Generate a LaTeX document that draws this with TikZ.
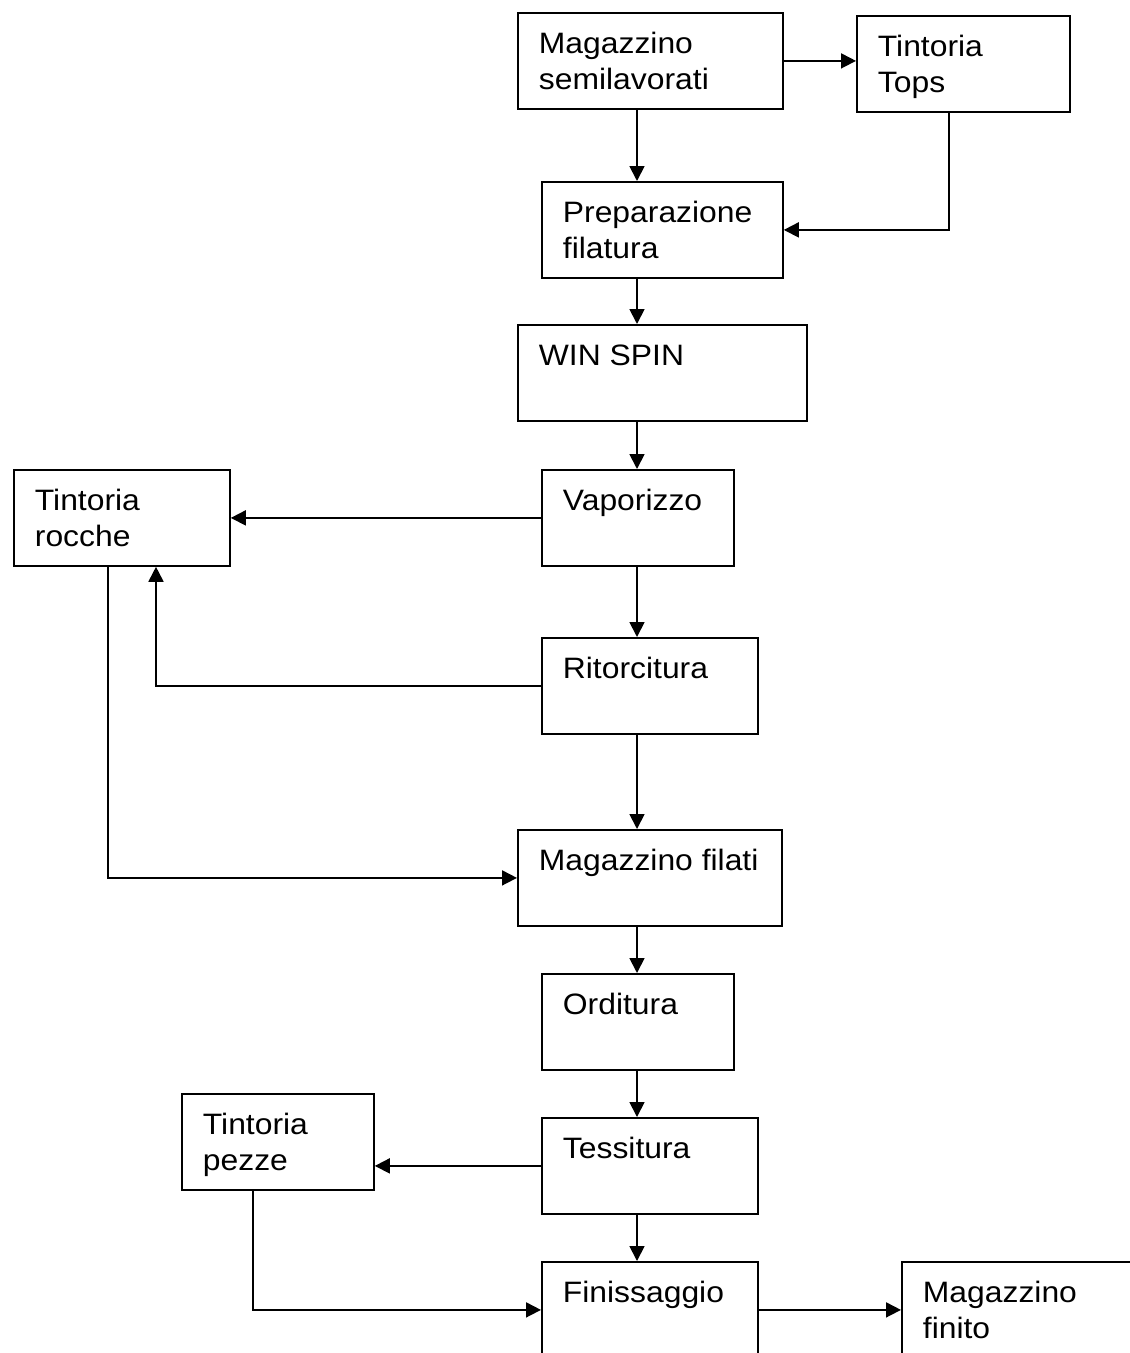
\documentclass[tikz,border=0pt]{standalone}
\usepackage{fontspec}
\setmainfont{Liberation Sans}[FakeStretch=1.08]
\usetikzlibrary{arrows.meta}
\newcommand{\stagelines}[1]{\begin{tabular}[t]{@{}l@{}}#1\end{tabular}}

\begin{document}
\begin{tikzpicture}[x=1pt, y=-1pt, line width=1.8pt,
    >={Triangle[length=15pt,width=15pt]},
    stage/.style={draw, anchor=north west, inner sep=0pt},
    stagetext/.style={anchor=base west, inner sep=0pt,
      font=\fontsize{29.5}{36}\selectfont}]
  % Page frame (bottom boxes run off the page)
  \useasboundingbox (0,0) rectangle (1130,1353);
  \clip (0,0) rectangle (1130,1353);

  % Boxes
  \node[stage, minimum width=265, minimum height=96] (msemi) at (517,12) {};
  \node[stage, minimum width=213, minimum height=96] (ttops) at (856,15) {};
  \node[stage, minimum width=241, minimum height=96] (prep) at (541,181) {};
  \node[stage, minimum width=289, minimum height=96] (winspin) at (517,324) {};
  \node[stage, minimum width=192, minimum height=96] (vapor) at (541,469) {};
  \node[stage, minimum width=216, minimum height=96] (trocche) at (13,469) {};
  \node[stage, minimum width=216, minimum height=96] (ritor) at (541,637) {};
  \node[stage, minimum width=264, minimum height=96] (mfil) at (517,829) {};
  \node[stage, minimum width=192, minimum height=96] (ordit) at (541,973) {};
  \node[stage, minimum width=216, minimum height=96] (tessit) at (541,1117) {};
  \node[stage, minimum width=192, minimum height=96] (tpezze) at (181,1093) {};
  \node[stage, minimum width=216, minimum height=96] (finiss) at (541,1261) {};
  \node[stage, minimum width=260, minimum height=96] (mfinito) at (901,1261) {};

  % Labels
  \node[stagetext] (msemi-t) at ([shift={(21,41)}]msemi.north west)
    {\stagelines{Magazzino\\semilavorati}};
  \node[stagetext] (ttops-t) at ([shift={(21,41)}]ttops.north west)
    {\stagelines{Tintoria\\Tops}};
  \node[stagetext] (prep-t) at ([shift={(21,41)}]prep.north west)
    {\stagelines{Preparazione\\filatura}};
  \node[stagetext] (winspin-t) at ([shift={(21,41)}]winspin.north west) {WIN SPIN};
  \node[stagetext] (vapor-t) at ([shift={(21,41)}]vapor.north west) {Vaporizzo};
  \node[stagetext] (trocche-t) at ([shift={(21,41)}]trocche.north west)
    {\stagelines{Tintoria\\rocche}};
  \node[stagetext] (ritor-t) at ([shift={(21,41)}]ritor.north west) {Ritorcitura};
  \node[stagetext] (mfil-t) at ([shift={(21,41)}]mfil.north west) {Magazzino filati};
  \node[stagetext] (ordit-t) at ([shift={(21,41)}]ordit.north west) {Orditura};
  \node[stagetext] (tessit-t) at ([shift={(21,41)}]tessit.north west) {Tessitura};
  \node[stagetext] (tpezze-t) at ([shift={(21,41)}]tpezze.north west)
    {\stagelines{Tintoria\\pezze}};
  \node[stagetext] (finiss-t) at ([shift={(21,41)}]finiss.north west) {Finissaggio};
  \node[stagetext] (mfinito-t) at ([shift={(21,41)}]mfinito.north west)
    {\stagelines{Magazzino\\finito}};

  % Guide lines for the connectors
  \coordinate (spine) at (637,0);
  \coordinate (tdrop) at (949,0);
  \coordinate (rup) at (156,0);
  \coordinate (rdown) at (108,0);
  \coordinate (pdown) at (253,0);

  % Main line down the middle
  \foreach \a/\b in {msemi/prep, prep/winspin, winspin/vapor, vapor/ritor,
                     ritor/mfil, mfil/ordit, ordit/tessit, tessit/finiss}
    \draw[->] (spine |- \a.south) -- (spine |- \b.north);

  % Side branches
  \draw[->] (msemi.east) -- (msemi.east -| ttops.west);
  \draw[->] (tdrop |- ttops.south) |- (prep.east);
  \draw[->] (vapor.west) -- (trocche.east);
  \draw[->] (ritor.west) -| (rup |- trocche.south);
  \draw[->] (rdown |- trocche.south) |- (mfil.west);
  \draw[->] (tessit.west) -- (tessit.west -| tpezze.east);
  \draw[->] (pdown |- tpezze.south) |- (finiss.west);
  \draw[->] (finiss.east) -- (mfinito.west);
\end{tikzpicture}
\end{document}
